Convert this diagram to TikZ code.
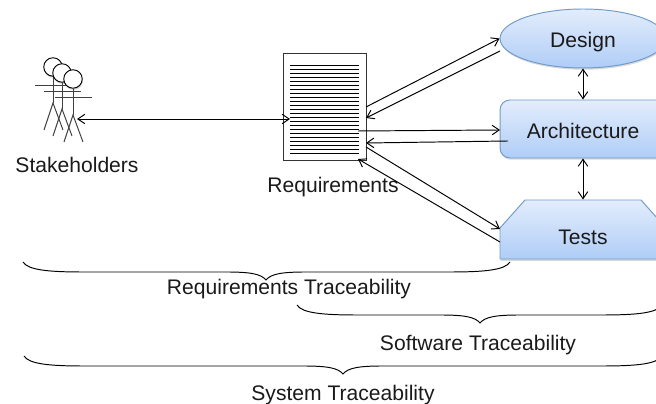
\documentclass[tikz,border=0pt]{standalone}
\usepackage{fontspec}
\setmainfont{Liberation Sans}
\usetikzlibrary{arrows.meta,shapes.geometric,shadows}

\definecolor{boxtop}{HTML}{E3EDFC}
\definecolor{boxbottom}{HTML}{AFCDF7}
\definecolor{boxline}{HTML}{6F9CCB}
\definecolor{inktext}{HTML}{1A1A1A}

\tikzset{
  softshadow/.style={drop shadow={shadow xshift=0.4pt, shadow yshift=-1pt, opacity=0.3}},
  blockfill/.style={draw=boxline, top color=boxtop, bottom color=boxbottom, softshadow},
  blockbox/.style={blockfill, inner sep=0pt, minimum width=3.32cm},
  blocktext/.style={inner sep=0pt, text=inktext},
  headball/.style={draw, circle, fill=white, minimum size=0.37cm, inner sep=0pt, softshadow},
  tracelabel/.style={text=inktext, inner sep=0pt},
}

\begin{document}
\begin{tikzpicture}[x=0.02cm, y=-0.02cm, >={Straight Barb[length=1.4mm,width=1.9mm]},
    every node/.style={font=\fontsize{12}{14}\selectfont}, line width=0.55pt]
  \useasboundingbox (0,0) rectangle (656,404);

  % stakeholders
  \foreach \hx/\hy/\hname in {53/67/stakeA, 62/73/stakeB, 73/79/stakeC} {
    \node[headball] (\hname) at (\hx,\hy) {};
    \draw[draw=black!75] (\hx-18,\hy+18) -- (\hx+19,\hy+18);
    \draw[draw=black!75] (\hname) -- (\hx,\hy+36);
    \draw[draw=black!75] (\hx-9,\hy+63) -- (\hx,\hy+36) -- (\hx+10,\hy+63);
  }
  \node[tracelabel] (stakeholders) at (77,165) {Stakeholders};
  \coordinate (stakeend) at (77,119);

  % requirements document
  \node[draw=black!80, minimum width=1.66cm, minimum height=2.16cm, fill=white, inner sep=0pt] (doc) at (324.5,107) {};
  \foreach \i in {0,...,22} {
    \draw[line width=0.4pt] (290,65+4*\i) -- (359,65+4*\i);
  }
  \node[tracelabel] (reqlabel) at (333,187) {Requirements};
  \coordinate (docin) at (290,119);
  \coordinate (docA) at (366,107);
  \coordinate (docB) at (366,118);
  \coordinate (docC) at (358,131);
  \coordinate (docD) at (366,143);
  \coordinate (docE) at (366,147);
  \coordinate (docF) at (358,159);

  % blocks
  \node[blockbox, ellipse, minimum height=1.18cm,
    label={[blocktext, yshift=-0.07cm]center:Design}] (design) at (583,38.5) {};
  \node[blockbox, rounded corners=0.2cm, minimum height=1.16cm,
    label={[blocktext, yshift=-0.03cm]center:Architecture}] (arch) at (583,129) {};
  \path[blockfill] (500,228) -- (525,200) -- (641,200) -- (666,228) -- (666,259) -- (500,259) -- cycle;
  \node[minimum width=3.32cm, minimum height=1.18cm, inner sep=0pt,
    label={[blocktext, yshift=-0.15cm]center:Tests}] (tests) at (583,229.5) {};
  \coordinate (designout) at (500,51);
  \coordinate (archin) at (500,130);
  \coordinate (archout) at (508,141);
  \coordinate (testsin) at (500,229);
  \coordinate (testsout) at (500,242);

  % arrows
  \draw[<->] (stakeend) -- (docin);
  \draw[->] (docA) -- (design.west);
  \draw[->] (designout) -- (docB);
  \draw[->] (docC) -- (archin);
  \draw[->] (archout) -- (docD);
  \draw[->] (docE) -- (testsin);
  \draw[->] (testsout) -- (docF);
  \draw[<->] (design.south) -- (arch.north);
  \draw[<->] (arch.south) -- (tests.north);

  % braces: left end / right end / tip / top
  \foreach \xa/\xb/\xm/\yt in {23/510/266/262, 297/662/480/305, 24/662/343/356} {
    \draw (\xa,\yt) .. controls (\xa+5,\yt+8) and (\xa+25,\yt+10) .. (\xa+60,\yt+10)
      -- (\xm-40,\yt+10) .. controls (\xm-15,\yt+10) and (\xm-5,\yt+12) .. (\xm,\yt+18)
      .. controls (\xm+5,\yt+12) and (\xm+15,\yt+10) .. (\xm+40,\yt+10)
      -- (\xb-60,\yt+10) .. controls (\xb-25,\yt+10) and (\xb-5,\yt+8) .. (\xb,\yt);
  }
  \node[tracelabel] (reqtrace) at (289,289) {Requirements Traceability};
  \node[tracelabel] (softtrace) at (478,345) {Software Traceability};
  \node[tracelabel] (systrace) at (343,395) {System Traceability};
\end{tikzpicture}
\end{document}
